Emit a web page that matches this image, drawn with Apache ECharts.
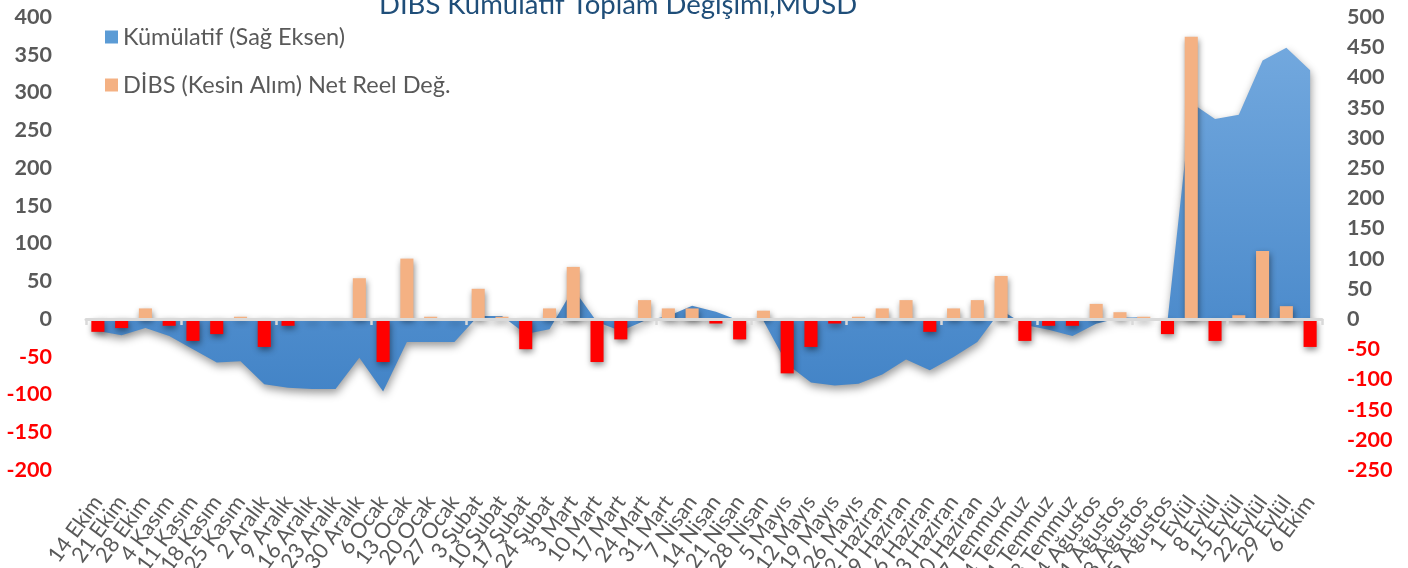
<!DOCTYPE html>
<html>
<head>
<meta charset="utf-8">
<script src="https://cdn.jsdelivr.net/npm/echarts@6/dist/echarts.min.js"></script>
<style>
html,body{margin:0;padding:0;background:#fff;}
#chart{width:1408px;height:568px;}
</style>
</head>
<body>
<div id="chart"></div>
<script>
const categories = ['14 Ekim','21 Ekim','28 Ekim','4 Kasım','11 Kasım','18 Kasım','25 Kasım','2 Aralık','9 Aralık','16 Aralık','23 Aralık','30 Aralık','6 Ocak','13 Ocak','20 Ocak','27 Ocak','3 Şubat','10 Şubat','17 Şubat','24 Şubat','3 Mart','10 Mart','17 Mart','24 Mart','31 Mart','7 Nisan','14 Nisan','21 Nisan','28 Nisan','5 Mayıs','12 Mayıs','19 Mayıs','26 Mayıs','2 Haziran','9 Haziran','16 Haziran','23 Haziran','30 Haziran','7 Temmuz','14 Temmuz','21 Temmuz','28 Temmuz','4 Ağustos','11 Ağustos','18 Ağustos','25 Ağustos','1 Eylül','8 Eylül','15 Eylül','22 Eylül','29 Eylül','6 Ekim'];

// DİBS (Kesin Alım) Net Reel Değ. — left axis
const netChange = [-17,-12,14,-9,-29,-20,3,-37,-9,-2,-2,54,-57,80,3,-2,40,3,-40,14,69,-57,-27,25,14,14,-6,-27,11,-72,-37,-6,3,14,25,-17,14,25,57,-29,-9,-9,20,9,3,-20,374,-29,5,90,17,-37];

// Kümülatif (Sağ Eksen) — right axis
const cumulative = [-20,-27,-15,-28,-50,-72,-70,-108,-114,-116,-116,-64,-120,-38,-38,-38,5,5,-25,-17,50,-5,-20,-3,5,22,12,-3,-3,-75,-105,-110,-107,-92,-67,-85,-63,-38,15,-10,-18,-28,-8,2,3,-3,358,331,338,428,449,412];

const leftTicks = {min:-200, max:400, interval:50};
const rightTicks = {min:-250, max:500, interval:50};

const FONT = 'Lato';
const GREY = '#595959';
const labelColor = v => (Number(v) < 0 ? '#FF0000' : GREY);

const chart = echarts.init(document.getElementById('chart'), null, {renderer:'canvas'});
chart.setOption({
  animation:false,
  backgroundColor:'#ffffff',
  title:{
    text:'DİBS Kümülatif Toplam Değişimi,MUSD',
    left:374, top:-14,
    textStyle:{fontFamily:FONT, fontSize:27.5, fontWeight:'normal', color:'#1F4E79'}
  },
  legend:{
    orient:'vertical', left:100, top:20, itemWidth:13, itemHeight:13, itemGap:24,
    icon:'rect',
    textStyle:{fontFamily:FONT, fontSize:23.5, color:GREY},
    data:[
      {name:'Kümülatif (Sağ Eksen)', itemStyle:{color:'#5B9BD5'}, lineStyle:{opacity:0}},
      {name:'DİBS (Kesin Alım) Net Reel Değ.', itemStyle:{color:'#F4B183'}}
    ]
  },
  grid:{left:86, right:86, top:17, bottom:98, containLabel:false, outerBoundsMode:'none'},
  xAxis:[
    {
      type:'category', data:categories, position:'bottom',
      axisLine:{show:false, onZero:false}, axisTick:{show:false},
      axisLabel:{interval:0, rotate:54, margin:28, fontFamily:FONT, fontSize:21.5, color:GREY, hideOverlap:false}
    },
    {
      type:'category', data:categories, position:'bottom', z:6,
      axisLine:{show:true, onZero:true, onZeroAxisIndex:0, lineStyle:{color:'#D9D9D9', width:3}},
      axisTick:{show:true, length:6, lineStyle:{color:'#D9D9D9', width:2.5}},
      axisLabel:{show:false}
    }
  ],
  yAxis:[
    {
      type:'value', min:leftTicks.min, max:leftTicks.max, interval:leftTicks.interval,
      axisLine:{show:false}, axisTick:{show:false}, splitLine:{show:false},
      axisLabel:{margin:34, fontFamily:FONT, fontSize:21.5, fontWeight:'bold', color:labelColor}
    },
    {
      type:'value', min:rightTicks.min, max:rightTicks.max, interval:rightTicks.interval,
      axisLine:{show:false}, axisTick:{show:false}, splitLine:{show:false},
      axisLabel:{margin:25, fontFamily:FONT, fontSize:21.5, fontWeight:'bold', color:labelColor}
    }
  ],
  series:[
    {
      name:'Kümülatif (Sağ Eksen)', type:'line', xAxisIndex:0, yAxisIndex:1, z:1,
      data:cumulative, symbol:'none', showSymbol:false,
      itemStyle:{color:'#5B9BD5'},
      lineStyle:{width:0},
      areaStyle:{
        opacity:1,
        color:new echarts.graphic.LinearGradient(0,0,0,1,[
          {offset:0, color:'#72A8DE'},
          {offset:1, color:'#4384C7'}
        ]),
        shadowColor:'rgba(0,0,0,0.4)', shadowBlur:8, shadowOffsetY:4, shadowOffsetX:1
      }
    },
    {
      name:'DİBS (Kesin Alım) Net Reel Değ.', type:'bar', xAxisIndex:0, yAxisIndex:0, z:3,
      data:netChange, barWidth:'55%',
      itemStyle:{
        color:p => (p.value < 0 ? '#FF0000' : '#F4B183'),
        shadowColor:'rgba(0,0,0,0.45)', shadowBlur:6, shadowOffsetX:1, shadowOffsetY:3
      }
    }
  ]
});
</script>
</body>
</html>
